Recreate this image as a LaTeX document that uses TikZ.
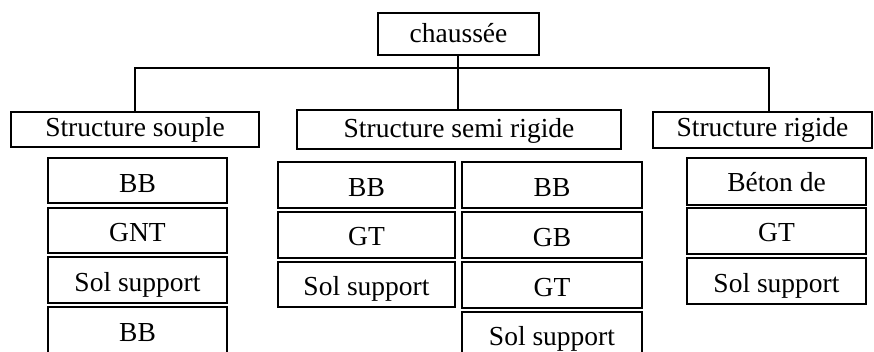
\documentclass[tikz,border=0pt]{standalone}
\usepackage{fontspec}
\setmainfont{Liberation Serif}
\tikzset{
  box/.style={draw, line width=1.7pt, inner sep=0pt, outer sep=0pt,
    font=\fontsize{27.5}{33}\selectfont},
  link/.style={draw, line width=1.7pt}
}
\newcommand\mkbox[7]{%
  \pgfmathsetmacro\mkW{#3-#2}%
  \pgfmathsetmacro\mkH{#5-#4}%
  \pgfmathsetmacro\mkT{#5-#4-#6}%
  \pgfmathsetmacro\mkX{(#2+#3)/2}%
  \pgfmathsetmacro\mkY{(#4+#5)/2}%
  \node[box, minimum width=\mkW pt, minimum height=\mkH pt,
        text height=\mkT pt, text depth=#6pt] (#1) at (\mkX,\mkY) {#7};}
\begin{document}
\begin{tikzpicture}[x=1pt,y=-1pt]
\useasboundingbox (0,0) rectangle (874,352);
\clip (0,0) rectangle (874,352);
% level 0 and 1
\mkbox{root}{378}{539}{13}{55}{12.5}{chaussée}
\mkbox{souple}{11}{259}{112}{147}{10}{Structure souple}
\mkbox{semi}{297}{621}{110}{149}{11.5}{Structure semi rigide}
\mkbox{rig}{653}{872}{112}{148}{11}{Structure rigide}
% souple column
\mkbox{s1}{48}{227}{158}{203}{10}{BB}
\mkbox{s2}{48}{227}{208}{253}{11}{GNT}
\mkbox{s3}{48}{227}{257}{303}{12}{Sol support}
\mkbox{s4}{48}{227}{307}{354}{12.5}{BB}
% semi rigide, left column
\mkbox{a1}{278}{455}{162}{208}{11}{BB}
\mkbox{a2}{278}{455}{212}{258}{12}{GT}
\mkbox{a3}{278}{455}{262}{307}{12}{Sol support}
% semi rigide, right column
\mkbox{b1}{462}{642}{162}{208}{11}{BB}
\mkbox{b2}{462}{642}{212}{258}{11}{GB}
\mkbox{b3}{462}{642}{262}{308}{12}{GT}
\mkbox{b4}{462}{642}{312}{357}{12}{Sol support}
% rigide column
\mkbox{r1}{687}{866}{158}{205}{13}{Béton de}
\mkbox{r2}{687}{866}{208}{254}{12}{GT}
\mkbox{r3}{687}{866}{258}{304}{12}{Sol support}
% connectors
\coordinate (jl) at (135,68);
\coordinate (jc) at (458,68);
\coordinate (jr) at (769,68);
\draw[link] (root.south -| jc) -- (jc |- semi.north);
\draw[link] (jl |- souple.north) -- (jl) -- (jr) -- (jr |- rig.north);
\end{tikzpicture}
\end{document}
